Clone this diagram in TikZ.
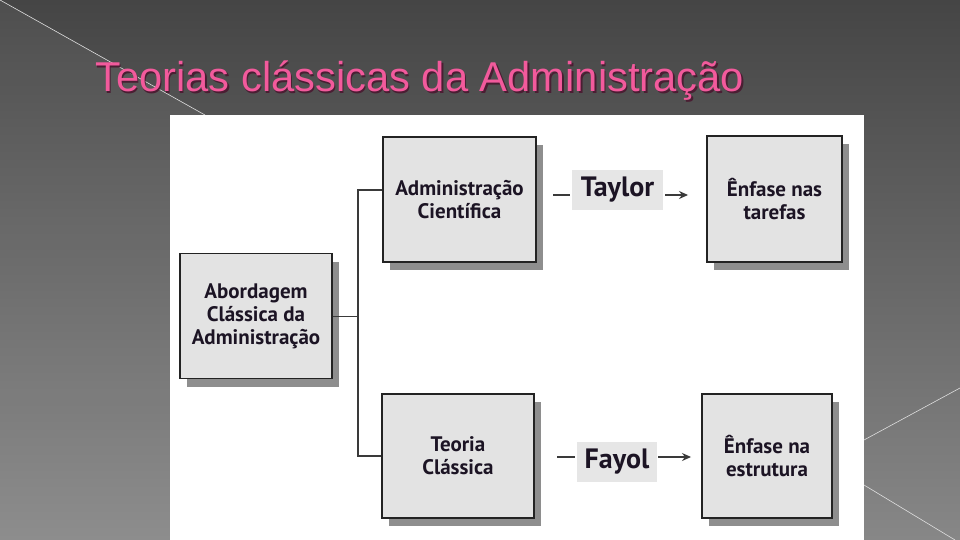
\documentclass[tikz,border=0pt]{standalone}
\usepackage{fontspec}
\setmainfont{PT Sans}
\newfontfamily\titulofonte{Liberation Sans}
\usetikzlibrary{arrows.meta,shadows}

\definecolor{rosa}{HTML}{F25A9C}
\definecolor{sombratitulo}{HTML}{4A1E33}
\definecolor{fundoalto}{HTML}{454545}
\definecolor{fundobaixo}{HTML}{878787}
\definecolor{cinzaclaro}{HTML}{E3E3E3}
\definecolor{cinzarotulo}{HTML}{E6E6E6}
\definecolor{sombra}{HTML}{8E8E8E}
\definecolor{borda}{HTML}{232323}
\definecolor{texto}{HTML}{1C1424}
\definecolor{conector}{HTML}{3A3A3A}

\begin{document}
\begin{tikzpicture}[x=1pt, y=-1pt, >=Stealth,
    caixa/.style={draw=borda, line width=1.3pt, fill=cinzaclaro, align=center, text=texto,
        font=\bfseries\fontsize{21}{23}\selectfont, inner sep=0pt,
        drop shadow={shadow xshift=7pt, shadow yshift=-8pt, fill=sombra, opacity=1}},
    rotulo/.style={fill=cinzarotulo, text=texto, font=\bfseries\fontsize{28}{30}\selectfont, inner sep=0pt},
    linha/.style={draw=conector, line width=1.2pt},
    linhafundo/.style={draw=white!75!gray, line width=0.6pt}]
    \useasboundingbox (0,0) rectangle (960,540);

    % fundo do slide
    \shade[top color=fundoalto, bottom color=fundobaixo] (0,0) rectangle (960,540);
    \fill[white, opacity=0.05] (0,0) -- (205,115) -- (205,540) -- (0,540) -- cycle;
    \draw[linhafundo] (0,0) -- (205,115);
    \draw[linhafundo] (864,440) -- (960,388);
    \draw[linhafundo] (864,485) -- (955,540);

    % titulo
    \node[anchor=base west, inner sep=0pt, text=sombratitulo, font=\titulofonte\fontsize{41.7}{48}\selectfont]
        at (96.5,93.5) {Teorias clássicas da Administração};
    \node[anchor=base west, inner sep=0pt, text=rosa, font=\titulofonte\fontsize{41.7}{48}\selectfont]
        (titulo) at (95,92) {Teorias clássicas da Administração};

    % painel branco
    \fill[white] (170,115) rectangle (864,540);

    % caixas
    \node[caixa, minimum width=152pt, minimum height=125pt] (abordagem) at (256,316) {Abordagem\\Clássica da\\Administração};
    \node[caixa, minimum width=153pt, minimum height=125pt] (cientifica) at (459.5,199.5) {Administração\\Científica};
    \node[caixa, minimum width=152pt, minimum height=124pt] (classica) at (458,456) {Teoria\\Clássica};
    \node[caixa, minimum width=135pt, minimum height=126pt] (tarefas) at (774.5,199) {Ênfase nas\\tarefas};
    \node[caixa, minimum width=130pt, minimum height=124pt] (estrutura) at (767,456) {Ênfase na\\estrutura};

    % rotulos dos autores
    \node[rotulo, minimum width=91pt, minimum height=40pt] (taylor) at (617.5,190) {Taylor};
    \node[rotulo, minimum width=80pt, minimum height=40pt] (fayol) at (617,462) {Fayol};

    % ramificacao
    \coordinate (ramo) at (358,316.5);
    \coordinate (topo) at (358,190);
    \coordinate (base) at (358,456);
    \draw[linha] (abordagem.east |- ramo) -- (ramo);
    \draw[linha] (cientifica.west |- topo) -- (topo) -- (base) -- (classica.west |- base);

    % setas dos autores
    \coordinate (ta) at (553,195);
    \coordinate (tb) at (688,195);
    \coordinate (fa) at (557,457);
    \coordinate (fb) at (691,457);
    \draw[linha] (ta) -- ([xshift=-2pt]taylor.west |- ta);
    \draw[linha, -{Stealth[length=9pt, width=8pt]}] ([xshift=2pt]taylor.east |- tb) -- (tb);
    \draw[linha] (fa) -- ([xshift=-2pt]fayol.west |- fa);
    \draw[linha, -{Stealth[length=9pt, width=8pt]}] ([xshift=1pt]fayol.east |- fb) -- (fb);
\end{tikzpicture}
\end{document}
